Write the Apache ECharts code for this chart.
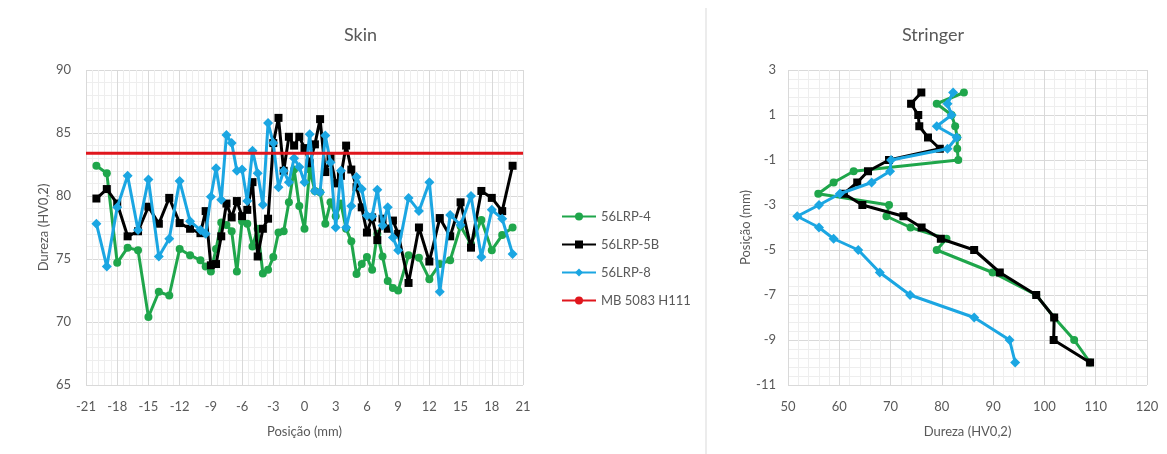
<!DOCTYPE html>
<html>
<head>
<meta charset="utf-8">
<script src="https://cdn.jsdelivr.net/npm/echarts@6/dist/echarts.min.js"></script>
<style>
html,body{margin:0;padding:0;background:#fff;}
#chart{width:1167px;height:454px;}
</style>
</head>
<body>
<div id="chart"></div>
<script>
// Skin: posição (mm) x dureza
var skinPos = [-20,-19,-18,-17,-16,-15,-14,-13,-12,-11,-10,-9.5,-9,-8.5,-8,-7.5,-7,-6.5,-6,-5.5,-5,-4.5,-4,-3.5,-3,-2.5,-2,-1.5,-1,-0.5,
               0,0.5,1,1.5,2,2.5,3,3.5,4,4.5,5,5.5,6,6.5,7,7.5,8,8.5,9,10,11,12,13,14,15,16,17,18,19,20];
var skinLrp4 = [82.4,81.8,74.7,75.9,75.7,70.4,72.4,72.1,75.8,75.3,74.9,74.4,74.0,75.8,77.9,77.7,77.2,74.0,78.0,77.8,76.0,77.4,73.85,74.15,75.15,77.1,77.2,79.5,82.1,79.2,
                77.4,82.1,80.4,80.3,77.8,79.5,78.4,79.4,77.4,76.4,73.8,74.6,75.15,74.15,77.0,75.2,73.25,72.7,72.5,75.3,75.1,73.4,74.6,74.9,77.6,76.2,78.1,75.7,76.9,77.5];
var skinLrp5b = [79.8,80.55,79.4,76.8,77.2,79.15,77.8,79.85,77.85,77.4,77.05,78.8,74.5,74.6,76.8,79.4,78.3,79.6,78.4,78.9,81.1,75.2,77.4,78.2,84.2,86.2,82.0,84.7,84.0,84.7,
                 83.8,82.6,84.1,86.1,81.9,83.0,81.0,81.6,84.0,82.1,80.7,79.1,77.1,78.3,76.5,78.2,77.4,78.05,77.0,73.1,77.5,74.8,78.25,76.8,79.5,75.9,80.4,79.85,78.8,82.4];
var skinLrp8 = [77.8,74.4,79.1,81.6,77.3,81.3,75.2,76.6,81.2,78.0,77.3,77.0,79.95,82.2,79.7,84.85,84.2,82.0,82.1,79.6,83.6,81.8,79.3,85.8,84.2,80.7,82.0,81.1,83.0,82.3,
                81.1,84.9,80.4,80.3,84.8,82.65,77.5,82.0,77.5,79.2,81.5,80.55,78.45,78.4,80.5,77.65,79.1,76.7,75.7,79.85,78.8,81.1,72.4,78.5,77.7,80.0,75.15,78.9,78.2,75.4];
var refPos = [-21, 21];
var refValue = [83.4, 83.4];

// Stringer: dureza x posição (mm)
var strDepth = [2,1.5,1,0.5,0,-0.5,-1,-1.5,-2,-2.5,-3,-3.5,-4,-4.5,-5,-6,-7,-8,-9,-10];
var strLrp4 = [84.3,79.0,81.9,82.6,83.0,83.0,83.2,62.8,58.9,55.9,69.7,69.2,73.9,80.9,79.0,89.9,98.4,101.9,105.8,108.9];
var strLrp5b = [76.0,74.0,75.4,75.6,77.3,79.6,69.7,65.6,63.5,60.9,64.5,72.5,76.05,79.8,86.3,91.3,98.4,101.9,101.8,108.9];
var strLrp8 = [82.2,81.1,81.9,79.0,82.9,81.1,70.1,69.9,66.3,60.1,56.05,51.8,56.05,58.9,63.7,67.9,73.8,86.3,93.2,94.3];

var names = ['56LRP-4', '56LRP-5B', '56LRP-8', 'MB 5083 H111'];
var colors = ['#1fa64b', '#000000', '#1ba6e2', '#e0161d'];
var txt = '#595959';
var fontFam = 'Lato, "Liberation Sans", sans-serif';

function pairs(xs, ys){
    return xs.map(function(x, i){ return [x, ys[i]]; });
}

function axis(gridIndex, min, max, interval, nameText, nameGap, labelMargin){
    return {
        type: 'value',
        gridIndex: gridIndex,
        min: min, max: max, interval: interval,
        name: nameText,
        nameLocation: 'middle',
        nameGap: nameGap,
        nameTextStyle: { color: txt, fontSize: 13, fontFamily: fontFam },
        axisLine: { show: false },
        axisTick: { show: false },
        axisLabel: { color: txt, fontSize: 13, fontFamily: fontFam, margin: labelMargin },
        splitLine: { show: true, lineStyle: { color: '#d9d9d9', width: 1 } },
        minorTick: { show: false, splitNumber: 5 },
        minorSplitLine: { show: true, lineStyle: { color: '#eeeeee', width: 1 } }
    };
}

function lineSeries(idx, xAxisIndex, data, symbol, size){
    return {
        name: names[idx],
        type: 'line',
        xAxisIndex: xAxisIndex,
        yAxisIndex: xAxisIndex,
        data: data,
        symbol: symbol,
        symbolSize: size,
        showSymbol: symbol !== 'none',
        lineStyle: { color: colors[idx], width: 3 },
        itemStyle: { color: colors[idx] },
        z: 3 + idx
    };
}

var myChart = echarts.init(document.getElementById('chart'), null, { renderer: 'canvas' });

var option = {
    animation: false,
    backgroundColor: '#ffffff',
    textStyle: { fontFamily: fontFam },
    title: [
        { text: 'Skin', left: 344, top: 26, padding: 0,
          textStyle: { color: txt, fontSize: 18, fontWeight: 'normal', fontFamily: fontFam } },
        { text: 'Stringer', left: 902, top: 26, padding: 0,
          textStyle: { color: txt, fontSize: 18, fontWeight: 'normal', fontFamily: fontFam } }
    ],
    legend: {
        orient: 'vertical',
        left: 556,
        top: 205,
        itemWidth: 34,
        itemHeight: 10,
        itemGap: 15,
        data: names,
        textStyle: { color: txt, fontSize: 13, fontFamily: fontFam }
    },
    graphic: [
        { type: 'line', shape: { x1: 706, y1: 8, x2: 706, y2: 454 },
          style: { stroke: '#d9d9d9', lineWidth: 1 } }
    ],
    grid: [
        { left: 86, top: 70, width: 437, height: 315 },
        { left: 788, top: 70, width: 359, height: 315 }
    ],
    xAxis: [
        axis(0, -21, 21, 3, 'Posição (mm)', 40, 15),
        axis(1, 50, 120, 10, 'Dureza (HV0,2)', 40, 15)
    ],
    yAxis: [
        axis(0, 65, 90, 5, 'Dureza (HV0,2)', 36, 15),
        axis(1, -11, 3, 2, 'Posição (mm)', 32, 12)
    ],
    series: [
        lineSeries(0, 0, pairs(skinPos, skinLrp4), 'circle', 8),
        lineSeries(1, 0, pairs(skinPos, skinLrp5b), 'rect', 8),
        lineSeries(2, 0, pairs(skinPos, skinLrp8), 'diamond', 10),
        lineSeries(3, 0, pairs(refPos, refValue), 'none', 0),
        lineSeries(0, 1, pairs(strLrp4, strDepth), 'circle', 8),
        lineSeries(1, 1, pairs(strLrp5b, strDepth), 'rect', 8),
        lineSeries(2, 1, pairs(strLrp8, strDepth), 'diamond', 10)
    ]
};

myChart.setOption(option, true);
</script>
</body>
</html>
